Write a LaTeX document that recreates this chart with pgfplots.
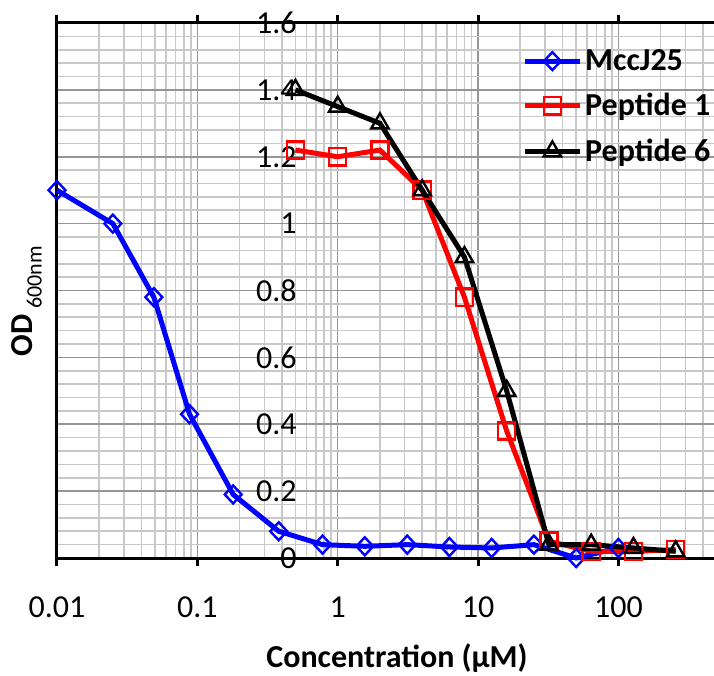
\documentclass[border=0pt]{standalone}
\usepackage{fontspec}
\setmainfont{Carlito}
\usepackage{pgfplots}
\pgfplotsset{compat=1.18}
\usetikzlibrary{calc}
\definecolor{gridmaj}{RGB}{150,150,150}
\definecolor{gridmin}{RGB}{200,200,200}
\begin{document}
\begin{tikzpicture}
\begin{axis}[
    scale only axis,
    width=328.5pt, height=267.5pt,
    xmode=log,
    xmin=0.01, xmax=480,
    ymin=0, ymax=1.6,
    clip=false,
    axis line style={draw=none},
    xtick={0.01,0.1,1,10,100},
    xticklabels={0.01,0.1,1,10,100},
    minor xtick={0.02,0.03,0.04,0.05,0.06,0.07,0.08,0.09,
                 0.2,0.3,0.4,0.5,0.6,0.7,0.8,0.9,
                 2,3,4,5,6,7,8,9,20,30,40,50,60,70,80,90,200,300,400},
    ytick={0,0.2,0.4,0.6,0.8,1,1.2,1.4,1.6},
    yticklabels={0,0.2,0.4,0.6,0.8,1,1.2,1.4,1.6},
    minor ytick={0.04,0.08,0.12,0.16,0.24,0.28,0.32,0.36,0.44,0.48,0.52,0.56,
                 0.64,0.68,0.72,0.76,0.84,0.88,0.92,0.96,1.04,1.08,1.12,1.16,
                 1.24,1.28,1.32,1.36,1.44,1.48,1.52,1.56},
    grid=both,
    major grid style={gridmaj, line width=0.8pt},
    minor grid style={gridmin, line width=0.8pt},
    tick align=outside,
    major tick length=4pt,
    minor tick length=0pt,
    xtick style={black, line width=1.5pt},
    ytick style={draw=none},
    tick label style={font=\fontsize{16}{19}\selectfont},
    xticklabel style={anchor=north, yshift=-12pt},
    yticklabel style={anchor=east, inner sep=0pt, xshift=124pt},
    xlabel={\textbf{Concentration (µM)}},
    every axis x label/.style={at={(axis description cs:0.5175,0)}, anchor=center, yshift=-50pt,
        font=\fontsize{16}{19}\selectfont},
    ylabel={\textbf{OD}\hspace{3pt}\raisebox{-4.5pt}{\fontsize{11}{13}\selectfont 600nm}},
    every axis y label/.style={at={(axis description cs:-0.046,0.48)}, rotate=90, anchor=center,
        font=\fontsize{16}{19}\selectfont},
    legend style={at={(axis description cs:0.708,0.9575)}, anchor=north west,
        draw=none, fill=none, inner sep=0pt, row sep=7pt,
        font=\bfseries\fontsize{16}{19}\selectfont,
        nodes={inner sep=1.5pt}},
    legend cell align=left,
    legend image code/.code={\draw[mark repeat=2,mark phase=2,#1]
        plot coordinates {(0cm,0cm) (0.48cm,0cm) (0.96cm,0cm)};},
]
% frame: left, top and bottom only
\draw[black, line width=1.5pt] (rel axis cs:1,1) -- (rel axis cs:0,1)
    -- (rel axis cs:0,0) -- (rel axis cs:1,0);

\addplot[blue, line width=2.5pt, mark=diamond, mark size=4.5pt,
    mark options={line width=1.2pt, fill=none, xscale=1.25}]
coordinates {
    (0.01,1.10) (0.025,1.00) (0.049,0.78) (0.088,0.43) (0.18,0.19)
    (0.38,0.08) (0.78,0.04) (1.56,0.035) (3.13,0.04) (6.25,0.033)
    (12.5,0.03) (25,0.04) (50,0.0) (100,0.03)
};
\addlegendentry{MccJ25}

\addplot[red, line width=2.5pt, mark=square, mark size=4.3pt,
    mark options={line width=1.2pt, fill=none}]
coordinates {
    (0.5,1.22) (1,1.20) (2,1.22) (4,1.10) (8,0.78)
    (16,0.38) (32,0.05) (64,0.02) (128,0.02) (256,0.025)
};
\addlegendentry{Peptide 1}

\addplot[black, line width=2.5pt, mark=triangle, mark size=5pt,
    mark options={line width=1.2pt, fill=none}]
coordinates {
    (0.5,1.40) (1,1.35) (2,1.30) (4,1.10) (8,0.90)
    (16,0.50) (32,0.04) (64,0.04) (128,0.03) (256,0.02)
};
\addlegendentry{Peptide 6}
\end{axis}
\pgfresetboundingbox
\path ($(current axis.south west)+(-28.5pt,-58.5pt)$) rectangle
      ($(current axis.north east)+(0pt,11.5pt)$);
\end{tikzpicture}
\end{document}
